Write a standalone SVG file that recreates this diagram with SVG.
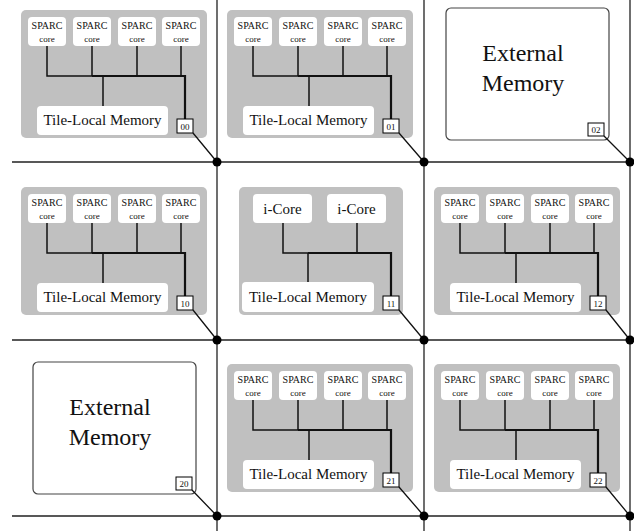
<svg xmlns="http://www.w3.org/2000/svg" width="634" height="531" viewBox="0 0 634 531">
<style>
  .bg{fill:#ffffff}
  .tile{fill:#c0c0c0}
  .box{fill:#ffffff}
  .ext{fill:#ffffff;stroke:#444;stroke-width:1.2}
  .lbl{fill:#ffffff;stroke:#000;stroke-width:1}
  .w{stroke:#111;stroke-width:1.5;fill:none}
  .wb{stroke:#111;stroke-width:2.2;fill:none}
  .grid{stroke:#222;stroke-width:1.3;fill:none}
  .link{stroke:#111;stroke-width:1.3;fill:none}
  .dot{fill:#000}
  text{font-family:"Liberation Serif","Times New Roman",serif;fill:#111;text-anchor:middle}
  .s{font-size:10px}
  .c{font-size:9px}
  .m{font-size:15px}
  .n{font-size:9px}
  .e{font-size:24px}
</style>
<defs>
  <g id="sparcTile">
    <rect class="tile" x="21" y="10" width="186" height="128" rx="5"/>
    <rect class="box" x="28" y="17" width="38" height="29" rx="4"/>
    <rect class="box" x="73" y="17" width="38" height="29" rx="4"/>
    <rect class="box" x="118" y="17" width="38" height="29" rx="4"/>
    <rect class="box" x="162" y="17" width="38" height="29" rx="4"/>
    <text class="s" x="47" y="29">SPARC</text><text class="c" x="47" y="42">core</text>
    <text class="s" x="92" y="29">SPARC</text><text class="c" x="92" y="42">core</text>
    <text class="s" x="137" y="29">SPARC</text><text class="c" x="137" y="42">core</text>
    <text class="s" x="181" y="29">SPARC</text><text class="c" x="181" y="42">core</text>
    <path class="w" d="M47,46V76H92M92,46V76M137,46V76M181,46V76M103,76V106"/>
    <path class="wb" d="M92,76H185V119"/>
    <rect class="box" x="37" y="106" width="131" height="29" rx="4"/>
    <text class="m" x="102.5" y="125">Tile-Local Memory</text>
    <rect class="lbl" x="177" y="119" width="16" height="14"/>
  </g>
</defs>
<rect class="bg" x="0" y="0" width="634" height="531"/>

<g id="tile00"><use href="#sparcTile"/><text class="n" x="185" y="129.5">00</text></g>
<g id="tile01" transform="translate(206,0)"><use href="#sparcTile"/><text class="n" x="185" y="129.5">01</text></g>
<g id="tile02">
  <rect class="ext" x="446" y="8" width="163" height="132" rx="5"/>
  <text class="e" x="523" y="61">External</text>
  <text class="e" x="523" y="91">Memory</text>
  <rect class="lbl" x="588" y="123" width="16" height="13"/>
  <text class="n" x="596" y="132.5">02</text>
</g>

<g id="tile10" transform="translate(0,177)"><use href="#sparcTile"/><text class="n" x="185" y="129.5">10</text></g>
<g id="tile11">
  <rect class="tile" x="239" y="187" width="164" height="128" rx="5"/>
  <rect class="box" x="253" y="194" width="59" height="29" rx="4"/>
  <rect class="box" x="327" y="194" width="59" height="29" rx="4"/>
  <text class="m" x="282.5" y="214">i-Core</text>
  <text class="m" x="356.5" y="214">i-Core</text>
  <path class="w" d="M283,223V253H308M357,223V253M308,253V282"/>
  <path class="wb" d="M308,253H391V296"/>
  <rect class="box" x="242" y="282" width="132" height="30" rx="4"/>
  <text class="m" x="308" y="302">Tile-Local Memory</text>
  <rect class="lbl" x="383" y="296" width="16" height="14"/>
  <text class="n" x="391" y="306.5">11</text>
</g>
<g id="tile12" transform="translate(413,177)"><use href="#sparcTile"/><text class="n" x="185" y="129.5">12</text></g>

<g id="tile20">
  <rect class="ext" x="33" y="362" width="163" height="132" rx="5"/>
  <text class="e" x="110" y="415">External</text>
  <text class="e" x="110" y="445">Memory</text>
  <rect class="lbl" x="176" y="477" width="16" height="13"/>
  <text class="n" x="184" y="486.5">20</text>
</g>
<g id="tile21" transform="translate(206,354)"><use href="#sparcTile"/><text class="n" x="185" y="129.5">21</text></g>
<g id="tile22" transform="translate(413,354)"><use href="#sparcTile"/><text class="n" x="185" y="129.5">22</text></g>

<g id="connectors">
  <path class="grid" d="M12,162H634M12,340H634M12,516H634M217,0V531M424,0V531M630,0V531"/>
  <path class="link" d="M193,133L217,162M399,133L424,162M604,136L630,162M193,310L217,340M399,310L424,340M606,310L630,340M192,490L217,516M399,487L424,516M606,487L630,516"/>
  <circle class="dot" cx="217" cy="162" r="4.5"/>
  <circle class="dot" cx="424" cy="162" r="4.5"/>
  <circle class="dot" cx="630" cy="162" r="4.5"/>
  <circle class="dot" cx="217" cy="340" r="4.5"/>
  <circle class="dot" cx="424" cy="340" r="4.5"/>
  <circle class="dot" cx="630" cy="340" r="4.5"/>
  <circle class="dot" cx="217" cy="516" r="4.5"/>
  <circle class="dot" cx="424" cy="516" r="4.5"/>
  <circle class="dot" cx="630" cy="516" r="4.5"/>
</g>
</svg>
